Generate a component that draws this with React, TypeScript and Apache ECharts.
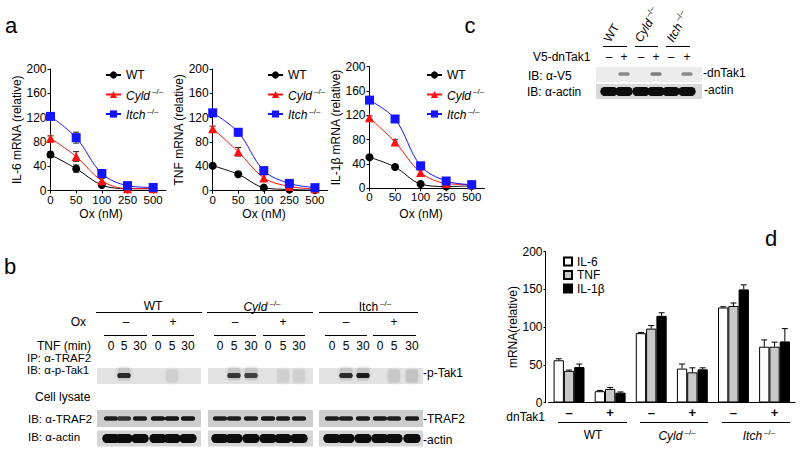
import React, { useEffect, useRef } from 'react';
import * as echarts from 'echarts';

const FONT = "'Liberation Sans', Arial, Helvetica, sans-serif";

// ---------- Panel a data ----------
const doses = ['0', '50', '100', '250', '500'];
const doseIdx = [0, 1, 2, 3, 4];
const il6WT = [59, 36, 9, 3, 3];
const il6Cyld = [86, 56, 16, 3, 3];
const il6Itch = [122, 87, 28, 8, 5];
const il6WTErr = [5, 6, 2, 1, 1];
const il6CyldErr = [4, 8, 4, 1, 1];
const il6ItchErr = [4, 9, 5, 2, 2];
const tnfWT = [41, 27, 5, 2, 1];
const tnfCyld = [102, 64, 21, 7, 3];
const tnfItch = [128, 96, 33, 12, 5];
const tnfWTErr = [3, 4, 4, 1, 1];
const tnfCyldErr = [4, 7, 5, 2, 1];
const tnfItchErr = [4, 6, 5, 2, 1];
const il1bWT = [51, 35, 7, 3, 4];
const il1bCyld = [116, 76, 26, 8, 6];
const il1bItch = [145, 114, 37, 12, 6];
const il1bWTErr = [3, 3, 3, 1, 1];
const il1bCyldErr = [3, 4, 4, 1, 1];
const il1bItchErr = [5, 5, 5, 3, 2];
const lineYTitles = ['IL-6 mRNA (relative)', 'TNF mRNA (relative)', 'IL-1β mRNA (relative)'];

// ---------- Panel d data ----------
const dCats = ['–', '+', '–', '+', '–', '+'];
const dIL6 = [56, 15, 92, 45, 126, 74];
const dTNF = [42, 18, 98, 40, 128, 74];
const dIL1b = [47, 13, 115, 44, 150, 81];
const dIL6Err = [2, 1, 1, 6, 1, 9];
const dTNFErr = [1, 2, 4, 6, 4, 6];
const dIL1bErr = [4, 1, 4, 2, 6, 17];

// ---------- Blot band intensities (0..1) ----------
const tnfMin = ['0', '5', '30', '0', '5', '30'];
const pTak1WT = [0.02, 0.85, 0.1, 0.02, 0.14, 0.05];
const pTak1Cyld = [0.02, 0.8, 0.75, 0.05, 0.15, 0.15];
const pTak1Itch = [0.02, 0.85, 0.9, 0.04, 0.22, 0.28];
const traf2WT = [0.9, 0.8, 0.9, 0.95, 0.95, 0.95];
const traf2Cyld = [0.9, 0.9, 0.9, 0.95, 0.92, 0.9];
const traf2Itch = [0.9, 0.9, 0.92, 0.92, 0.9, 0.9];
const actinB = [0.98, 0.98, 0.98, 0.98, 0.98, 0.98];
const v5C = [0, 0.4, 0, 0.45, 0, 0.4];
const actinC = [0.98, 0.98, 0.98, 0.98, 0.98, 0.98];

const BLACK = '#000';

function txt(x: number, y: number, text: string, o: any = {}) {
  return {
    type: 'text', x, y, silent: true, rotation: o.rotation || 0,
    style: {
      text, fill: BLACK, fontFamily: FONT, fontSize: o.size || 12,
      fontStyle: o.italic ? 'italic' : 'normal',
      align: o.align || 'center', verticalAlign: o.va || 'middle',
      rich: o.rich,
    },
  };
}
function ln(x1: number, y1: number, x2: number, y2: number) {
  return { type: 'line', silent: true, shape: { x1, y1, x2, y2 }, style: { stroke: BLACK, lineWidth: 1 } };
}
function rect(x: number, y: number, w: number, h: number, fill: string) {
  return { type: 'rect', silent: true, shape: { x, y, width: w, height: h }, style: { fill } };
}
function band(cx: number, cy: number, w: number, h: number, I: number, blur: number, r?: number) {
  const g = Math.round(222 - 212 * I);
  const c = `rgb(${g},${g},${g})`;
  return {
    type: 'rect', silent: true,
    shape: { x: cx - w / 2, y: cy - h / 2, width: w, height: h, r: r ?? h / 2 },
    style: { fill: c, shadowBlur: blur, shadowColor: c },
  };
}

const supRich = (size: number) => ({
  i: { fontStyle: 'italic', fontSize: size, fontFamily: FONT, fill: BLACK, color: BLACK, lineHeight: 14, verticalAlign: 'bottom' },
  n: { fontSize: size, fontFamily: FONT, fill: BLACK, color: BLACK, lineHeight: 14, verticalAlign: 'bottom' },
  s: { fontSize: 8, fontFamily: FONT, fill: BLACK, color: BLACK, lineHeight: 14, verticalAlign: 'top', padding: [0, 0, 0, 2] },
});

function buildGraphics() {
  const g: any[] = [];
  // panel letters
  g.push(txt(11, 25, 'a', { size: 22 }));
  g.push(txt(10, 266, 'b', { size: 22 }));
  g.push(txt(470, 25, 'c', { size: 22 }));
  g.push(txt(771, 238, 'd', { size: 22 }));
  // x axis titles of panel a
  [101, 264, 421].forEach((x) => g.push(txt(x, 214, 'Ox (nM)', { size: 12 })));

  // ----- panel b -----
  g.push(txt(153, 306, 'WT', { size: 12 }));
  g.push(txt(262, 306, '{i|Cyld}{s|–/–}', { rich: supRich(12) }));
  g.push(txt(375, 306, '{n|Itch}{s|–/–}', { rich: supRich(12) }));
  g.push(ln(96, 312.5, 202, 312.5));
  g.push(ln(207, 312.5, 313, 312.5));
  g.push(ln(319, 312.5, 418, 312.5));
  g.push(txt(86, 322, 'Ox', { align: 'right' }));
  [[126, '–'], [173, '+'], [235, '–'], [283, '+'], [346, '–'], [394, '+']].forEach(([x, s]) =>
    g.push(txt(x as number, 322, s as string)));
  [[104, 147], [152, 194], [214, 256], [263, 305], [325, 367], [373, 416]].forEach(([a, b]) =>
    g.push(ln(a, 335.5, b, 335.5)));
  g.push(txt(91, 345.5, 'TNF (min)', { align: 'right' }));
  const lanesB = [
    [111, 124, 140, 158, 172, 188],
    [220, 234, 251, 268, 283, 299],
    [332, 346, 363, 380, 394, 412],
  ];
  lanesB.forEach((ls) => ls.forEach((x, i) => g.push(txt(x, 345.5, tnfMin[i]))));
  g.push(txt(27, 358, 'IP: α-TRAF2', { align: 'left', size: 11.5 }));
  g.push(txt(27, 370, 'IB: α-p-Tak1', { align: 'left', size: 11.5 }));
  g.push(txt(35, 397, 'Cell lysate', { align: 'left', size: 12 }));
  g.push(txt(28, 419, 'IB: α-TRAF2', { align: 'left', size: 11.5 }));
  g.push(txt(28, 437, 'IB: α-actin', { align: 'left', size: 11.5 }));
  const blotX = [[97, 201], [208, 313], [319, 423]];
  const pT = [pTak1WT, pTak1Cyld, pTak1Itch];
  const tr = [traf2WT, traf2Cyld, traf2Itch];
  blotX.forEach(([a, b], k) => {
    g.push(rect(a, 368, b - a, 16, '#e3e3e3'));
    g.push(rect(a, 410, b - a, 17, '#cdcdcd'));
    g.push(rect(a, 430.5, b - a, 16, '#d6d6d6'));
    lanesB[k].forEach((x, i) => {
      const I = pT[k][i];
      if (I > 0.1 && I < 0.4) g.push(band(x, 376, 12, 13, I * 0.45, 3, 2));
      if (I >= 0.4) {
        g.push(band(x, 374, 13, 12, 0.12, 3, 2));
        g.push(band(x, 375.5, 13, 5, I, 1.5));
      }
      g.push(band(x, 418.5, 14, 4, tr[k][i], 1));
      g.push(band(x, 438.5, 17, 9, actinB[i], 1.5));
    });
  });
  g.push(txt(423, 373, '-p-Tak1', { align: 'left', size: 12 }));
  g.push(txt(423, 418.5, '-TRAF2', { align: 'left', size: 12 }));
  g.push(txt(423, 439.5, '-actin', { align: 'left', size: 12 }));

  // ----- panel c -----
  g.push(txt(612, 44, 'WT', { align: 'left', va: 'bottom', rotation: Math.PI / 3, size: 12 }));
  g.push(txt(643, 44, '{i|Cyld}{s|–/–}', { align: 'left', va: 'bottom', rotation: Math.PI / 3, rich: supRich(12) }));
  g.push(txt(675, 44, '{i|Itch}{s|–/–}', { align: 'left', va: 'bottom', rotation: Math.PI / 3, rich: supRich(12) }));
  g.push(ln(603, 46.5, 627, 46.5));
  g.push(ln(635, 46.5, 658, 46.5));
  g.push(ln(666, 46.5, 690, 46.5));
  g.push(txt(533, 57, 'V5-dnTak1', { align: 'left', size: 12 }));
  const lanesC = [609, 624, 641, 656, 671, 687];
  lanesC.forEach((x, i) => g.push(txt(x, 57, i % 2 === 0 ? '–' : '+')));
  g.push(txt(528, 76, 'IB: α-V5', { align: 'left', size: 12 }));
  g.push(txt(527, 92, 'IB: α-actin', { align: 'left', size: 12 }));
  g.push(rect(596, 67, 106, 15, '#ececec'));
  g.push(rect(596, 84, 106, 15, '#d9d9d9'));
  lanesC.forEach((x, i) => {
    if (v5C[i] > 0) g.push(band(x, 74, 11, 3, v5C[i], 1.5));
    g.push(band(x, 91.5, 17, 9, actinC[i], 1.5));
  });
  g.push(txt(703, 73, '-dnTak1', { align: 'left', size: 12 }));
  g.push(txt(704, 90, '-actin', { align: 'left', size: 12 }));

  // ----- panel d annotations -----
  g.push(txt(545, 416.5, 'dnTak1', { align: 'right', size: 12 }));
  g.push(ln(558, 422.5, 627, 422.5));
  g.push(ln(640, 422.5, 708, 422.5));
  g.push(ln(722, 422.5, 790, 422.5));
  g.push(txt(593, 435, 'WT', { size: 12 }));
  g.push(txt(677, 435, '{i|Cyld}{s|–/–}', { rich: supRich(12) }));
  g.push(txt(759, 435, '{i|Itch}{s|–/–}', { rich: supRich(12) }));
  return g;
}

function lineErr(k: number, vals: number[], errs: number[]) {
  return {
    type: 'custom', xAxisIndex: k, yAxisIndex: k, z: 1, silent: true,
    data: doseIdx.map((i) => [i, vals[i], errs[i]]),
    renderItem: (_p: any, api: any) => {
      const x = api.value(0), y = api.value(1), e = api.value(2);
      const t = api.coord([x, y + e]);
      const b = api.coord([x, Math.max(0, y - e)]);
      const st = { stroke: '#222', lineWidth: 1 };
      return {
        type: 'group', children: [
          { type: 'line', shape: { x1: t[0], y1: t[1], x2: b[0], y2: b[1] }, style: st },
          { type: 'line', shape: { x1: t[0] - 3, y1: t[1], x2: t[0] + 3, y2: t[1] }, style: st },
          { type: 'line', shape: { x1: b[0] - 3, y1: b[1], x2: b[0] + 3, y2: b[1] }, style: st },
        ],
      };
    },
  };
}

function lineSeries(k: number, name: string, vals: number[], color: string, symbol: string, size: number) {
  return {
    type: 'line', name, xAxisIndex: k, yAxisIndex: k, z: 3,
    data: doseIdx.map((i) => [i, vals[i]]),
    smooth: 0.35, symbol, symbolSize: size,
    lineStyle: { color, width: 1 }, itemStyle: { color },
  };
}

const BAR_W = 10.3;
function barErr(s: number, vals: number[], errs: number[]) {
  return {
    type: 'custom', xAxisIndex: 3, yAxisIndex: 3, z: 1, silent: true,
    data: vals.map((v, i) => [i, v, errs[i]]),
    renderItem: (_p: any, api: any) => {
      const i = api.value(0), v = api.value(1), e = api.value(2);
      const base = api.coord([i, v]);
      const top = api.coord([i, v + e]);
      const x = base[0] + (s - 1) * BAR_W;
      const st = { stroke: '#000', lineWidth: 1 };
      return {
        type: 'group', children: [
          { type: 'line', shape: { x1: x, y1: base[1], x2: x, y2: top[1] }, style: st },
          { type: 'line', shape: { x1: x - 3, y1: top[1], x2: x + 3, y2: top[1] }, style: st },
        ],
      };
    },
  };
}

const grids = [
  { left: 50.5, top: 69, width: 115.5, height: 121.5 },
  { left: 212.7, top: 69, width: 115, height: 121.7 },
  { left: 369.5, top: 66.7, width: 115, height: 121.6 },
  { left: 548.5, top: 251.7, width: 246.6, height: 150.8 },
];

const axisLine = { show: true, onZero: false, lineStyle: { color: BLACK, width: 1 } };

function buildOption() {
  const xAxis: any[] = [0, 1, 2].map((k) => ({
    gridIndex: k, type: 'value', min: 0, max: 4.5,
    axisLine,
    axisTick: { show: true, length: 3, lineStyle: { color: BLACK }, customValues: doseIdx },
    axisLabel: { color: BLACK, fontSize: 11.5, fontFamily: FONT, margin: 3, customValues: doseIdx, formatter: (v: number) => doses[v] ?? '' },
    splitLine: { show: false },
  }));
  xAxis.push({
    gridIndex: 3, type: 'category', data: dCats,
    axisLine, axisTick: { show: false },
    axisLabel: { color: BLACK, fontSize: 13, fontFamily: FONT, margin: 3, fontWeight: 'bold' },
  });
  const yAxis: any[] = [0, 1, 2].map((k) => ({
    gridIndex: k, type: 'value', min: 0, max: 200, interval: 40,
    axisLine, axisTick: { show: true, length: 3, lineStyle: { color: BLACK } },
    axisLabel: { color: BLACK, fontSize: 12, fontFamily: FONT, margin: 4 },
    splitLine: { show: false },
    name: lineYTitles[k], nameLocation: 'middle', nameGap: 25,
    nameTextStyle: { color: BLACK, fontSize: 12, fontFamily: FONT },
  }));
  yAxis.push({
    gridIndex: 3, type: 'value', min: 0, max: 200, interval: 50, offset: 3,
    axisLine, axisTick: { show: true, length: 2, lineStyle: { color: BLACK } },
    axisLabel: { color: BLACK, fontSize: 12, fontFamily: FONT, margin: 3 },
    splitLine: { show: false },
    name: 'mRNA(relative)', nameLocation: 'middle', nameGap: 20,
    nameTextStyle: { color: BLACK, fontSize: 12, fontFamily: FONT },
  });

  const sets = [
    [il6WT, il6Cyld, il6Itch, il6WTErr, il6CyldErr, il6ItchErr],
    [tnfWT, tnfCyld, tnfItch, tnfWTErr, tnfCyldErr, tnfItchErr],
    [il1bWT, il1bCyld, il1bItch, il1bWTErr, il1bCyldErr, il1bItchErr],
  ];
  const series: any[] = [];
  sets.forEach((s, k) => {
    series.push(lineErr(k, s[0], s[3]));
    series.push(lineErr(k, s[1], s[4]));
    series.push(lineErr(k, s[2], s[5]));
    series.push(lineSeries(k, 'WT', s[0], '#000000', 'circle', 8));
    series.push(lineSeries(k, 'Cyld', s[1], '#ff1010', 'triangle', 9));
    series.push(lineSeries(k, 'Itch', s[2], '#1414ff', 'rect', 9));
  });
  const barNames = ['IL-6', 'TNF', 'IL-1β'];
  const barVals = [dIL6, dTNF, dIL1b];
  const barErrs = [dIL6Err, dTNFErr, dIL1bErr];
  const barColors = ['#ffffff', '#c8c8c8', '#000000'];
  barVals.forEach((v, s) => {
    series.push({
      type: 'bar', name: barNames[s], xAxisIndex: 3, yAxisIndex: 3, data: v,
      barWidth: BAR_W, barGap: '0%', z: 2,
      itemStyle: { color: barColors[s], borderColor: '#000', borderWidth: 1 },
    });
  });
  barVals.forEach((v, s) => series.push(barErr(s, v, barErrs[s])));

  const legRich = {
    i: { fontStyle: 'italic', fontSize: 12, fontFamily: FONT, color: BLACK, lineHeight: 14, verticalAlign: 'bottom' },
    s: { fontSize: 8, fontFamily: FONT, color: BLACK, lineHeight: 14, verticalAlign: 'top', padding: [0, 0, 0, 2] },
  };
  const legend: any[] = [100, 262, 421].map((left) => ({
    orient: 'vertical', left, top: 63, itemWidth: 15, itemHeight: 9, itemGap: 5.5,
    selectedMode: false, data: ['WT', 'Cyld', 'Itch'],
    formatter: (n: string) => (n === 'WT' ? 'WT' : `{i|${n}}{s|–/–}`),
    textStyle: { color: BLACK, fontSize: 12, fontFamily: FONT, lineHeight: 14, rich: legRich },
  }));
  legend.push({
    orient: 'vertical', left: 558, top: 250.5, itemWidth: 8, itemHeight: 8, itemGap: 1.5,
    selectedMode: false, data: barNames, icon: 'rect',
    textStyle: { color: BLACK, fontSize: 12, fontFamily: FONT, lineHeight: 12 },
  });

  return {
    animation: false,
    backgroundColor: '#ffffff',
    textStyle: { fontFamily: FONT },
    grid: grids.map((g) => ({ ...g, containLabel: false, outerBoundsMode: 'none' })),
    xAxis, yAxis, series, legend,
    graphic: buildGraphics(),
  };
}

export default function App() {
  const ref = useRef<HTMLDivElement>(null);
  useEffect(() => {
    if (!ref.current) return;
    const chart = echarts.init(ref.current, undefined, { renderer: 'svg', width: 800, height: 452 });
    chart.setOption(buildOption() as any);
    return () => chart.dispose();
  }, []);
  return (
    <div
      ref={ref}
      style={{ position: 'fixed', left: 0, top: 0, width: 800, height: 452, background: '#fff' }}
    />
  );
}
